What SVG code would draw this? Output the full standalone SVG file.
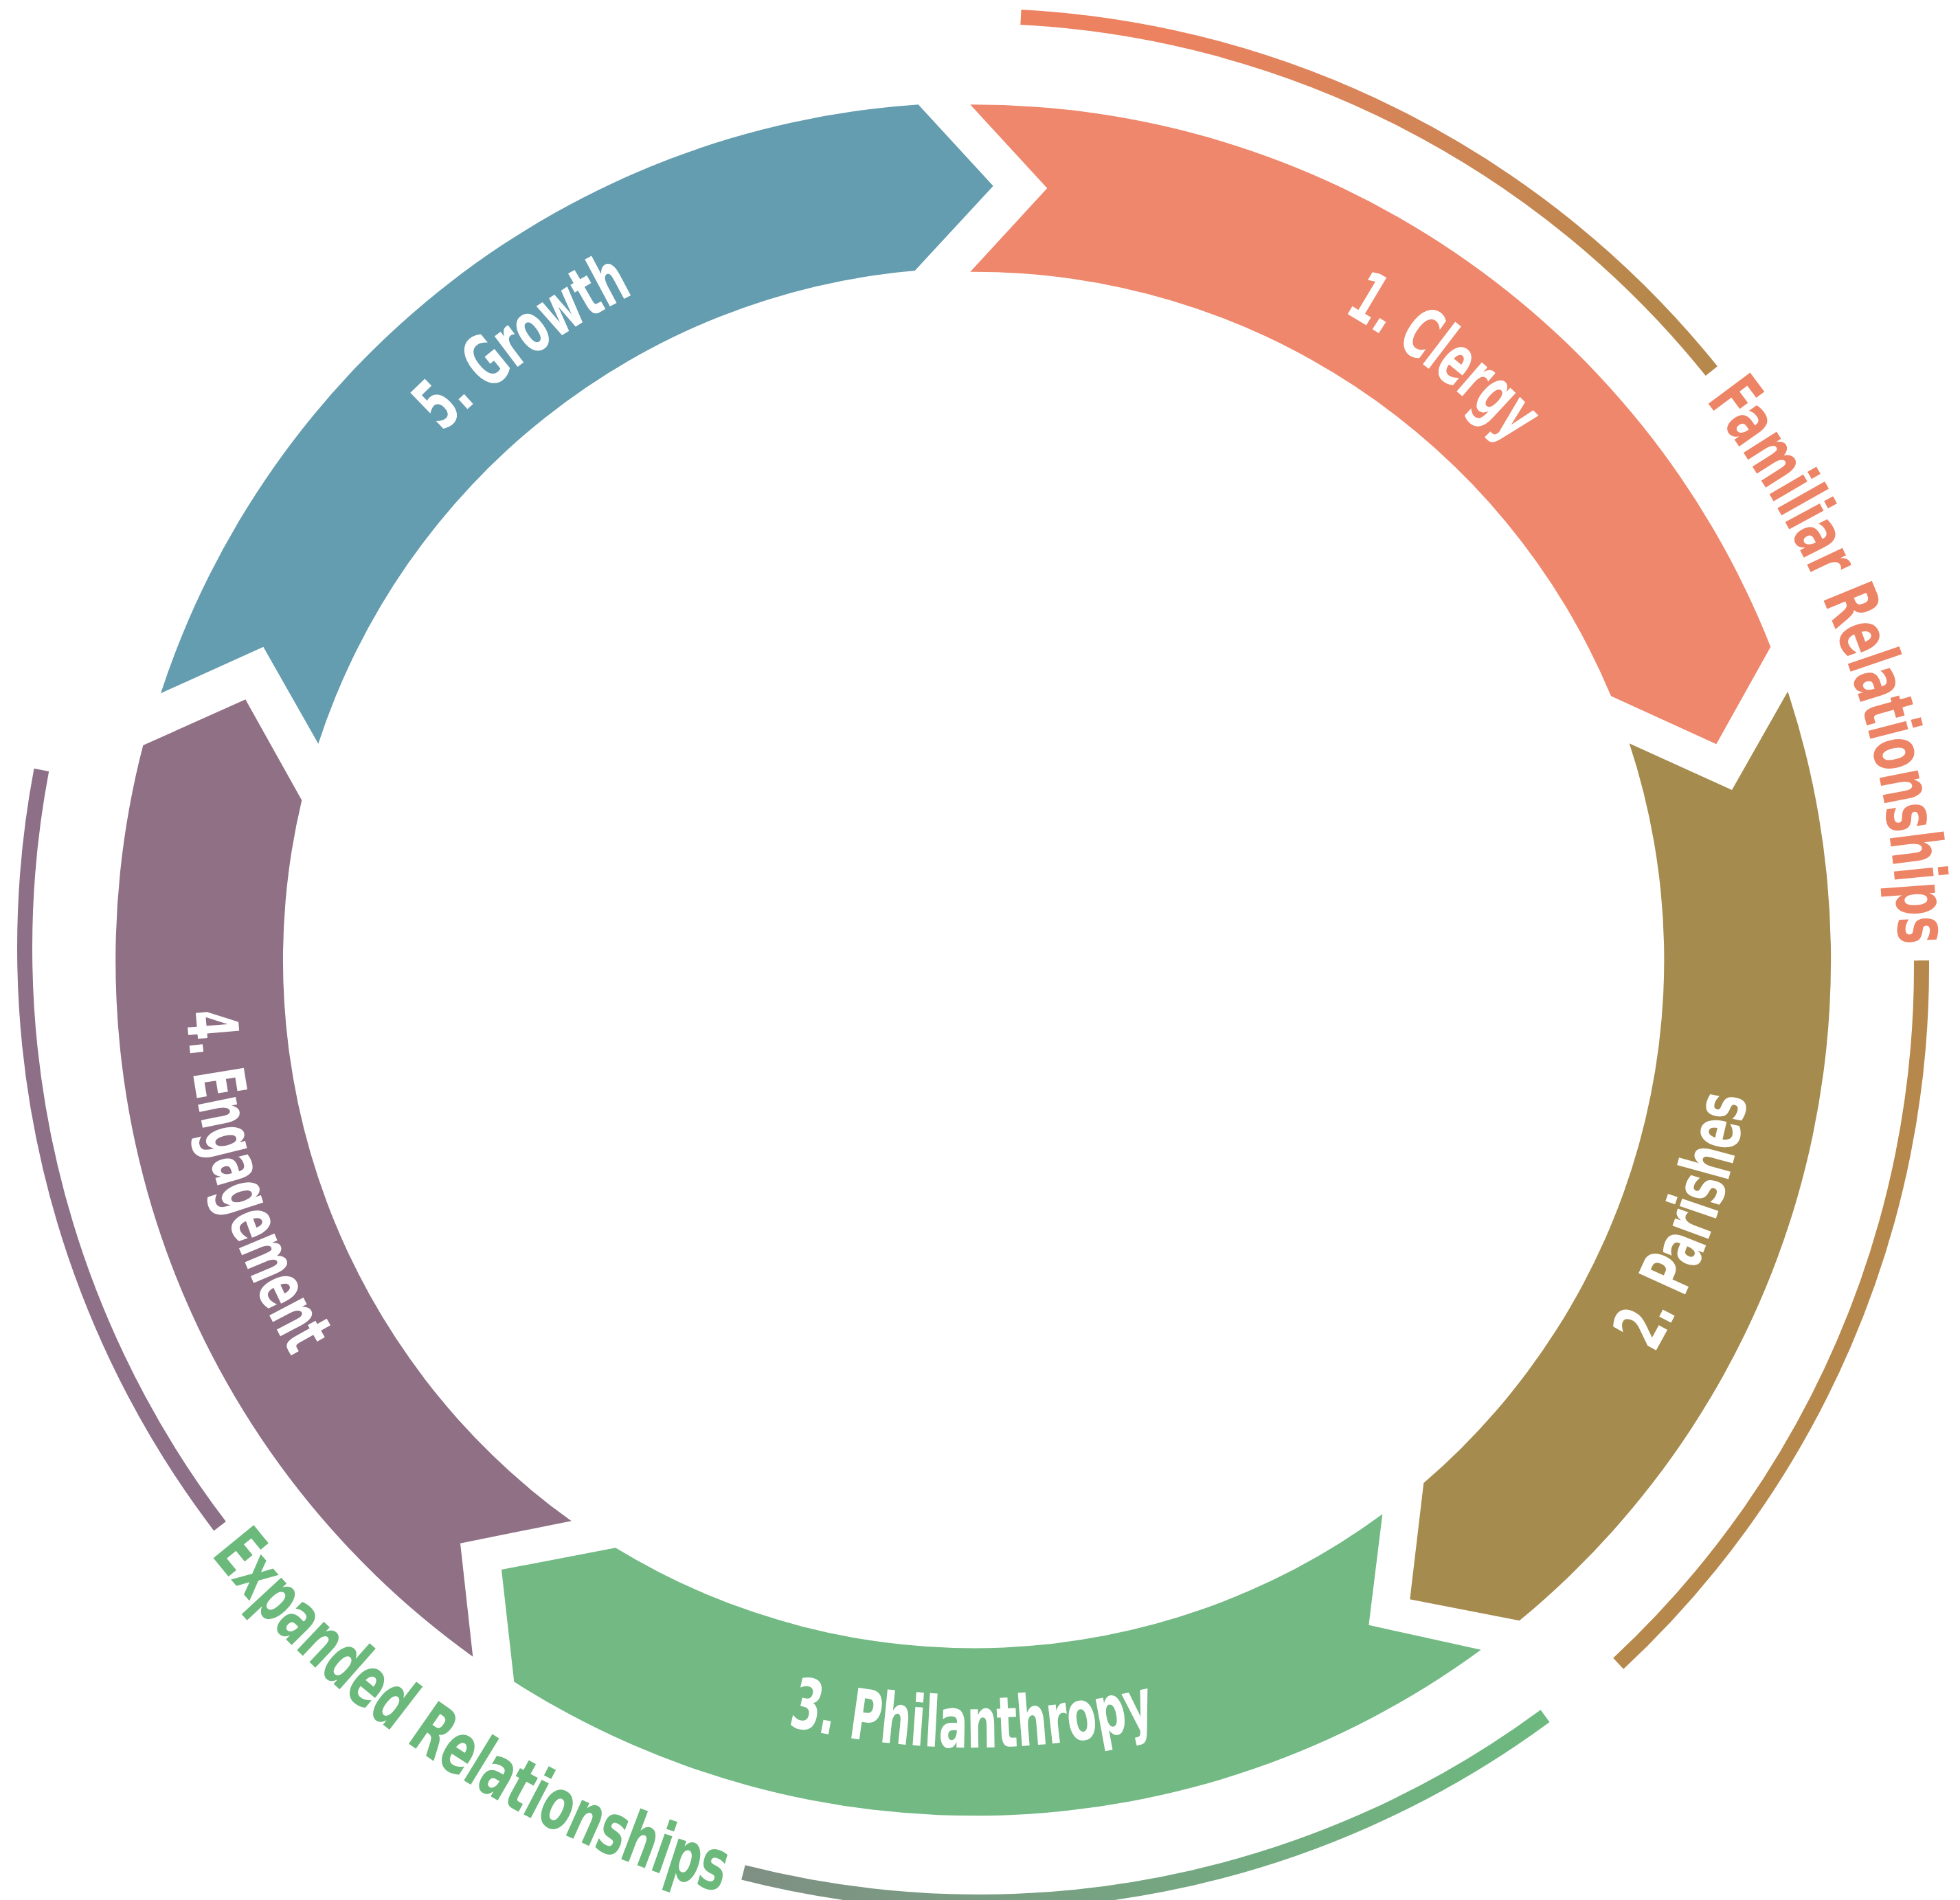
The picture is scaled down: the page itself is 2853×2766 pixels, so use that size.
<svg xmlns="http://www.w3.org/2000/svg" width="2853" height="2766" viewBox="0 0 2853 2766">
<style>
  .seg-coral { fill: #EE876B; }
  .seg-ochre { fill: #A68B4E; }
  .seg-green { fill: #72B983; }
  .seg-purple { fill: #8F7085; }
  .seg-teal { fill: #649DAF; }
  .lbl { font-family: 'Liberation Sans Narrow', 'DejaVu Sans Condensed', 'Liberation Sans', sans-serif; font-weight: bold; font-size: 102px; fill: #FFFFFF; }
  .otxt { font-family: 'Liberation Sans Narrow', 'DejaVu Sans Condensed', 'Liberation Sans', sans-serif; font-weight: bold; font-size: 104px; }
  .bracket { fill: none; stroke-width: 22px; stroke-linecap: butt; }
</style>
<defs>
  <linearGradient id="gFam" gradientUnits="userSpaceOnUse" x1="1700" y1="50" x2="2400" y2="450">
    <stop offset="0" stop-color="#EC8260"/>
    <stop offset="1" stop-color="#B6884B"/>
  </linearGradient>
  <linearGradient id="gExp" gradientUnits="userSpaceOnUse" x1="2250" y1="2500" x2="300" y2="2150">
    <stop offset="0" stop-color="#6DB97F"/>
    <stop offset="1" stop-color="#8D6F87"/>
  </linearGradient>
  <path id="p1" d="M 1188.79 333.78 A 1088 1088 0 0 1 2502.34 1360.03"/>
  <path id="p2" d="M 1806.96 2474.89 A 1146 1146 0 0 0 2407.47 825"/>
  <path id="p3" d="M 537.11 2134.63 A 1146 1146 0 0 0 2292.89 2134.63"/>
  <path id="p4" d="M 453.88 773.84 A 1146 1146 0 0 0 967.22 2452.90"/>
  <path id="p5" d="M 329.65 1322.11 A 1088 1088 0 0 1 1678.21 342.32"/>
  <path id="pFam" d="M 1885.48 141.62 A 1352 1352 0 0 1 2576.92 2094.19"/>
  <path id="pExp" d="M 85.94 1867.38 A 1425 1425 0 0 0 1080.26 2762.67"/>
</defs>

<g id="connectors">
  <path id="bracket-familiar" class="bracket" stroke="url(#gFam)" d="M 1485.93 24.97 A 1385 1385 0 0 1 2491.38 540.15 M 2796.97 1398.33 A 1385 1385 0 0 1 2355.68 2421.75"/>
  <path id="bracket-expanded" class="bracket" stroke="url(#gExp)" d="M 2249.05 2498.15 A 1389 1389 0 0 1 1081.92 2725.96 M 320.09 2221.72 A 1389 1389 0 0 1 60.38 1120.92"/>
</g>

<g id="node-clergy">
  <path class="seg-coral" d="M 1412.3 152.3 A 1247 1247 0 0 1 2577.3 941.7 L 2498.3 1083.3 L 2345 1013.3 A 1004 1004 0 0 0 1412.3 395.7 L 1524.3 274 Z"/>
  <text class="lbl"><textPath href="#p1" startOffset="50%" text-anchor="middle" textLength="312" lengthAdjust="spacingAndGlyphs">1. Clergy</textPath></text>
</g>
<g id="node-parishes">
  <path class="seg-ochre" d="M 2602.3 1006.7 A 1247 1247 0 0 1 2211.7 2359.3 L 2052.3 2328.3 L 2072.3 2159 A 1004 1004 0 0 0 2371.7 1082.3 L 2521 1150 Z"/>
  <text class="lbl"><textPath href="#p2" startOffset="50%" text-anchor="middle" textLength="398" lengthAdjust="spacingAndGlyphs">2. Parishes</textPath></text>
</g>
<g id="node-philanthropy">
  <path class="seg-green" d="M 2155.7 2401.7 A 1247 1247 0 0 1 748.3 2448.3 L 730 2285 L 896 2253.3 A 1004 1004 0 0 0 2012.3 2204.3 L 1992.4 2365.8 Z"/>
  <text class="lbl"><textPath href="#p3" startOffset="50%" text-anchor="middle" textLength="542" lengthAdjust="spacingAndGlyphs">3. Philanthropy</textPath></text>
</g>
<g id="node-engagement">
  <path class="seg-purple" d="M 688.3 2411.7 A 1247 1247 0 0 1 208.3 1085 L 357.3 1018.3 L 439.3 1165 A 1004 1004 0 0 0 831.7 2214.3 L 670 2246.7 Z"/>
  <text class="lbl"><textPath href="#p4" startOffset="50%" text-anchor="middle" textLength="530" lengthAdjust="spacingAndGlyphs">4. Engagement</textPath></text>
</g>
<g id="node-growth">
  <path class="seg-teal" d="M 234 1009.3 A 1247 1247 0 0 1 1336.7 152.3 L 1445.7 270.7 L 1331.7 394 A 1004 1004 0 0 0 463.3 1082.7 L 383.3 941.7 Z"/>
  <text class="lbl"><textPath href="#p5" startOffset="50%" text-anchor="middle" textLength="345" lengthAdjust="spacingAndGlyphs">5. Growth</textPath></text>
</g>

<g id="label-familiar">
  <text class="otxt" fill="#EE8466"><textPath href="#pFam" startOffset="752.4" textLength="855" lengthAdjust="spacingAndGlyphs">Familiar Relationships</textPath></text>
</g>
<g id="label-expanded">
  <text class="otxt" fill="#6CB97C"><textPath href="#pExp" startOffset="455.3" textLength="905" lengthAdjust="spacingAndGlyphs">Expanded Relationships</textPath></text>
</g>
</svg>
